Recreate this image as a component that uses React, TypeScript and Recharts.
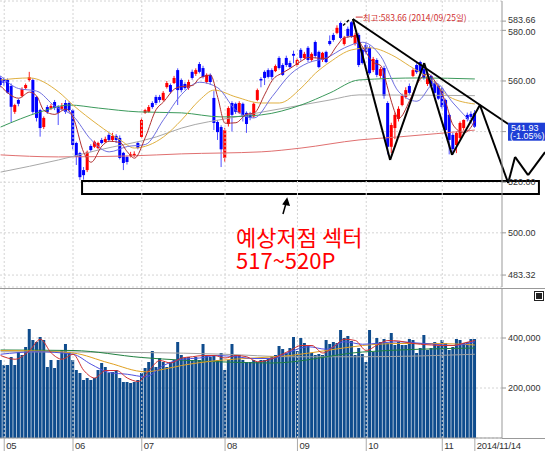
import React from 'react';
import {
  ComposedChart,
  Bar,
  Line,
  XAxis,
  YAxis,
  CartesianGrid,
  ReferenceLine,
  ReferenceArea,
  ReferenceDot,
} from 'recharts';

// daily OHLC, 2014/04/30 .. 2014/11/14 (index 0 .. 131)
const opens = [
  561.2, 560.8, 560.4, 558, 547.8, 552.5, 554.1, 557.2, 560.4, 560.4,
  553.7, 548.5, 541.8, 549.7, 549.3, 551.7, 549.7, 549, 551.3, 551.3,
  548.5, 535.5, 531.5, 524.8, 524.8, 534.3, 534, 533.5, 536.7, 535.9,
  538.7, 536.7, 538.3, 537.5, 531.6, 530, 530.4, 530.6, 535.5, 537.9,
  547.4, 547.8, 551.3, 553.7, 553.7, 552.5, 557.6, 558.4, 559.2, 564.3,
  560.4, 558.8, 557.2, 563.6, 562.8, 566.7, 565.1, 559.6, 562.4, 553.3,
  543.8, 541.8, 529.6, 543, 551.3, 551, 547.4, 551, 547.4, 547,
  546, 552.5, 560.8, 563.6, 564.3, 564.3, 563.9, 569.1, 566.3, 569.1,
  567.1, 570.7, 566.3, 572.3, 569.1, 573.1, 568.3, 575.4, 571.5, 568.3,
  571.5, 575.8, 578.2, 579, 582.9, 574.6, 580.6, 583.2, 574.6, 578.2,
  572.3, 574.2, 573.1, 564.3, 568.3, 562, 565.1, 551.3, 534, 541.4,
  545, 550.5, 553.7, 558, 562, 566.3, 567.5, 564.7, 558.8, 562,
  559.2, 558, 557, 552.5, 546.6, 538.7, 534.7, 537.5, 541.4, 546.6,
  547, 547.4,
];
const highs = [
  562, 561.5, 561, 559, 551, 553, 557.5, 559, 563.6, 561,
  554, 549, 546, 550.5, 551, 552.5, 550.5, 551.3, 552.5, 552,
  549, 536, 532, 526, 532.5, 535, 536.5, 536, 537.5, 538,
  539.5, 539.5, 539, 538.5, 532, 530.5, 532, 532.2, 536, 545.5,
  549, 550.5, 552, 554.5, 554.5, 556, 560, 559, 562, 565,
  561, 559.5, 560.5, 564.5, 565, 567.5, 566, 563, 563, 556,
  544.5, 542.5, 541.5, 550, 552, 551.5, 552, 551.5, 548, 547.8,
  551.5, 557, 561.5, 564.2, 565, 565, 566.5, 569.8, 567, 570,
  568, 572, 569, 573, 571.5, 573.8, 571.3, 576, 572, 571.5,
  572, 578, 579, 582, 583.5, 577.8, 581.5, 583.66, 579, 579,
  573, 575, 574, 569.5, 569, 565.5, 566, 552, 543.5, 547.5,
  550, 555, 557.5, 559, 565, 567, 568, 565.5, 562, 562.5,
  560, 558.5, 557.5, 553, 547, 539.5, 540, 544, 544.8, 547.5,
  548, 548.5,
];
const lows = [
  557.5, 558, 555, 543.6, 547, 550, 553.5, 556.8, 559.8, 547,
  544, 538, 541, 547, 548.5, 548.5, 542.6, 548.6, 547, 547.5,
  533, 526.8, 520.9, 521, 524, 532, 533.5, 533, 535, 535.5,
  536, 536, 535.5, 529, 524.8, 527, 529.8, 530, 533, 537.5,
  547, 547.5, 549, 550.5, 551.5, 552, 557, 555, 558.8, 550.5,
  555.5, 556.5, 556.5, 560.5, 562, 563, 561, 559, 558.5, 540.6,
  536.7, 526, 528, 542, 540, 547, 547, 544, 539.5, 544.5,
  545.5, 552, 557.5, 558.4, 561, 560.5, 563.5, 564.5, 562, 565.5,
  565, 567, 565.5, 568, 568.5, 567.5, 567.5, 569, 565, 567.5,
  567, 574, 575.5, 578.5, 576.5, 574, 577, 577, 574, 565.5,
  566.5, 570.5, 562.5, 563.5, 561.5, 561, 553, 531, 531.5, 537,
  544, 550, 553, 554.5, 561.5, 562.8, 563, 560.5, 558, 557.5,
  554.5, 552.5, 549, 540, 531, 531, 531.5, 537, 540.5, 544,
  545, 541.5,
];
const closes = [
  558.4, 559.2, 555.4, 549.8, 550.5, 551, 556.8, 558.4, 561.5, 547.8,
  545.4, 541.4, 545.4, 547.8, 550.1, 549.3, 547.4, 550, 547.8, 548.5,
  534.7, 530, 522, 522.8, 532, 532.7, 536, 535.5, 535.5, 537.1,
  536.7, 538.3, 536.7, 529.6, 527.6, 528, 531, 531.2, 533.5, 544.6,
  548.5, 549.7, 549.7, 551.3, 552.5, 555.3, 559.2, 555.7, 561.2, 556.4,
  556.4, 557.2, 559.6, 561.2, 564.3, 563.6, 561.6, 562.4, 559.6, 543.4,
  539.8, 533, 540.6, 549.3, 546.6, 547.8, 551.3, 545.8, 543, 545.4,
  551, 556.4, 560.2, 561.2, 561.6, 561.6, 565.9, 565.1, 562.4, 566.3,
  565.5, 570, 568.3, 569.1, 570.7, 568.3, 570.7, 569.9, 565.5, 571.1,
  567.5, 574.6, 576.2, 581, 577, 577, 577.8, 577.8, 578.2, 566.3,
  567.1, 571.5, 563.1, 568.7, 562.4, 564.7, 554.1, 534, 542.6, 546.6,
  549, 554.1, 556.4, 555.3, 564.3, 563.5, 563.6, 561.2, 561.6, 558,
  555.3, 553, 549.7, 540.6, 536.7, 533.1, 539.5, 543.4, 544.6, 545,
  545.8, 541.93,
];
// volume in thousands of shares
const volumes = [
  312, 292, 292, 324, 292, 344, 332, 364, 436, 392,
  384, 404, 392, 284, 312, 280, 312, 352, 376, 344,
  312, 272, 260, 232, 240, 232, 240, 272, 300, 284,
  260, 264, 272, 240, 224, 224, 220, 224, 232, 260,
  280, 304, 348, 284, 320, 304, 284, 304, 312, 384,
  332, 320, 324, 312, 324, 312, 376, 332, 324, 332,
  312, 340, 272, 312, 376, 332, 332, 312, 304, 304,
  312, 304, 312, 312, 320, 328, 332, 368, 356, 340,
  360, 404, 348, 400, 380, 372, 340, 332, 336, 332,
  392, 376, 384, 380, 432, 400, 408, 388, 332, 360,
  336, 304, 432, 344, 400, 384, 396, 380, 420, 372,
  384, 372, 372, 396, 392, 340, 360, 412, 352, 360,
  384, 368, 392, 380, 352, 364, 396, 392, 380, 384,
  396, 396,
];

// moving averages: [day index, value]
const ma5Pts: [number, number][] = [
  [0, 558], [5, 553.2], [8, 555.6], [10, 554], [12, 548.3], [15, 546.8], [18, 548.9], [20, 545.7],
  [23, 531.6], [25, 527.9], [28, 534.3], [30, 536.2], [33, 535.7], [35, 532], [37, 529.5], [40, 537.8],
  [43, 548.8], [45, 551.7], [48, 556.8], [50, 557.8], [53, 558.2], [55, 561.2], [58, 562.3], [60, 553.4],
  [62, 543.3], [65, 543.5], [68, 546.9], [70, 547.3], [73, 554.8], [75, 560.2], [78, 563.3], [80, 565],
  [83, 567.8], [85, 569.3], [88, 569], [90, 568.9], [93, 574.1], [95, 577.2], [98, 577.6], [100, 573.4],
  [103, 567.3], [105, 566.1], [107, 556.8], [108, 551.6], [110, 545.3], [113, 552.3], [115, 558.7],
  [118, 562.8], [120, 559.9], [123, 551.3], [125, 542.6], [128, 539.5], [131, 544.1],
];
const ma10Pts: [number, number][] = [
  [0, 562], [5, 557], [10, 556], [15, 550], [20, 546.2], [25, 536.8], [30, 532], [35, 534.1],
  [40, 534.9], [45, 544.7], [50, 554.7], [55, 559.5], [60, 557.3], [65, 548.4], [70, 545.4],
  [75, 553.8], [80, 562.6], [85, 567.2], [90, 569.1], [95, 573.1], [100, 575.3], [105, 569.8],
  [110, 555.7], [115, 552], [120, 559.3], [125, 551.3], [131, 542],
];
const ma20Pts: [number, number][] = [
  [0, 560.4], [8, 561.2], [16, 555.7], [20, 550.5], [27, 542.6], [33, 536.7], [37, 533.5], [41, 534.7],
  [45, 537.9], [50, 544.6], [55, 552.5], [59, 556.4], [65, 553.7], [72, 551.3], [77, 551.3], [83, 557.2],
  [87, 563.1], [91, 567.5], [97, 572.3], [102, 573.1], [108, 570.3], [113, 565.9], [119, 560.4],
  [124, 553.7], [131, 550.9],
];
const ma60Pts: [number, number][] = [
  [0, 541.8], [11, 547.8], [19, 550.5], [27, 549.3], [38, 547.8], [50, 547.4], [61, 545.8],
  [72, 546.6], [83, 550.5], [91, 555.3], [99, 560.4], [116, 561.2], [131, 560.8],
];
const ma120Pts: [number, number][] = [
  [0, 524], [16, 528.8], [27, 532.7], [43, 537.9], [50, 541.4], [65, 545.8], [80, 549.7],
  [91, 552.5], [99, 554.5], [131, 554.2],
];
const ma240Pts: [number, number][] = [
  [0, 530.8], [16, 530], [36, 530.4], [50, 531.2], [72, 532], [83, 533.5], [99, 536.7],
  [110, 537.9], [131, 540.6],
];

// volume moving averages (thousands)
const vma5Pts: [number, number][] = [
  [0, 330], [4, 315], [8, 350], [11, 395], [14, 340], [17, 315], [20, 335], [23, 270], [26, 240],
  [29, 270], [32, 270], [35, 240], [38, 226], [41, 270], [44, 310], [47, 300], [50, 320], [53, 325],
  [56, 330], [59, 330], [62, 320], [65, 330], [68, 325], [71, 305], [74, 312], [77, 330], [80, 350],
  [83, 370], [86, 370], [89, 340], [92, 365], [95, 395], [98, 390], [101, 350], [104, 372],
  [107, 390], [110, 388], [113, 380], [116, 375], [119, 372], [122, 370], [125, 370], [128, 380],
  [131, 390],
];
const vma10Pts: [number, number][] = [
  [0, 335], [10, 345], [20, 335], [25, 295], [30, 262], [35, 255], [40, 245], [45, 290], [50, 315],
  [55, 320], [60, 330], [65, 325], [70, 318], [75, 318], [80, 345], [85, 365], [90, 355], [95, 385],
  [100, 375], [105, 380], [110, 385], [115, 380], [120, 375], [125, 370], [131, 385],
];
const vma20Pts: [number, number][] = [
  [0, 350], [10, 348], [20, 340], [30, 300], [40, 265], [45, 275], [50, 290], [60, 310], [70, 320],
  [80, 330], [90, 350], [100, 370], [110, 378], [120, 378], [131, 372],
];
const vma60Pts: [number, number][] = [
  [0, 352], [20, 350], [39, 322], [62, 304], [75, 300], [100, 344], [131, 360],
];
const vma120Pts: [number, number][] = [
  [0, 345], [39, 342], [62, 335], [80, 325], [100, 325], [131, 335],
];

const monthTicks = [1, 20, 39, 62, 82, 101, 122];
const monthLabels = ['05', '06', '07', '08', '09', '10', '11'];
const lastIndex = 131;
const lastDate = '2014/11/14';
const priceTicks = [483.32, 500, 520, 540, 560, 580, 583.66];
const volumeTicks = [200000, 400000];
const lastClose = 541.93;
const lastChange = '(-1.05%)';
const highIndex = 97;
const highValue = 583.66;
const highDate = '2014/09/25';
const noteText = '예상저점 섹터\n517~520P';

// hand-drawn annotations, in (day index, price) coordinates
const zigzag: [number, number][] = [
  [97.3, 584.5], [107.6, 528.8], [117, 567.1], [124.7, 530.8], [132.4, 550.5],
  [140.2, 519.7], [142.1, 530], [145.7, 522.8], [150.4, 531.9],
];
const trendLine: [number, number][] = [[97.3, 584.5], [140.2, 543]];
const targetBox = { x1: 22.5, x2: 148.7, y1: 515.3, y2: 520.5 };
const arrowTip = { x: 79.1, y: 513.4 };

const X_DOMAIN: [number, number] = [-0.166, 138.5];
const PRICE_DOMAIN: [number, number] = [478.6, 591.6];
const AXIS_FONT = '"Liberation Sans", Arial, sans-serif';

const lookup = (pts: [number, number][]) => {
  const m = new Map(pts);
  return (i: number) => (m.has(i) ? (m.get(i) as number) : null);
};
const ma5 = lookup(ma5Pts);
const ma10 = lookup(ma10Pts);
const ma20 = lookup(ma20Pts);
const ma60 = lookup(ma60Pts);
const ma120 = lookup(ma120Pts);
const ma240 = lookup(ma240Pts);
const vma5 = lookup(vma5Pts);
const vma10 = lookup(vma10Pts);
const vma20 = lookup(vma20Pts);
const vma60 = lookup(vma60Pts);
const vma120 = lookup(vma120Pts);
const k = (v: number | null) => (v == null ? null : v * 1000);

const rows = closes.map((c, i) => ({
  i,
  o: opens[i],
  h: highs[i],
  l: lows[i],
  c,
  range: [lows[i], highs[i]],
  vol: volumes[i] * 1000,
  ma5: ma5(i),
  ma10: ma10(i),
  ma20: ma20(i),
  ma60: ma60(i),
  ma120: ma120(i),
  ma240: ma240(i),
  vma5: k(vma5(i)),
  vma10: k(vma10(i)),
  vma20: k(vma20(i)),
  vma60: k(vma60(i)),
  vma120: k(vma120(i)),
}));

const Candle = (props: any) => {
  const { x, y, width, height, payload } = props;
  if (!payload) return null;
  const { o, h, l, c } = payload;
  const top = Math.min(y, y + height);
  const bot = Math.max(y, y + height);
  const ratio = h === l ? 0 : (bot - top) / (h - l);
  const py = (v: number) => top + (h - v) * ratio;
  const up = c >= o;
  const body = up ? '#ff0000' : '#0000ff';
  const wick = up ? '#ff2020' : '#5050ff';
  const cx = x + width / 2;
  const bt = py(Math.max(o, c));
  const bb = py(Math.min(o, c));
  return (
    <g>
      <line x1={cx} x2={cx} y1={top} y2={bot} stroke={wick} strokeWidth={1} />
      <rect x={x} y={bt} width={width} height={Math.max(1, bb - bt)} fill={body} />
    </g>
  );
};

// 583.66 and 580.00 sit very close: nudge them apart a little
const PriceTick = ({ x, y, payload }: any) => {
  const v = payload.value;
  if (v === 540) return <g />;
  const dy = v === highValue ? -1.5 : v === 580 ? 1.5 : 0;
  return (
    <text x={x} y={y + dy} dy="0.355em" fontSize={9} fill="#333" fontFamily={AXIS_FONT}>
      {v.toFixed(2)}
    </text>
  );
};

const MonthTick = ({ x, y, payload }: any) => {
  const idx = payload.value;
  const label = idx === lastIndex ? lastDate : monthLabels[monthTicks.indexOf(idx)];
  return (
    <g>
      <line x1={x} x2={x} y1={y} y2={y + 13} stroke="#aaa" />
      <text
        x={x + 2}
        y={y + 10.5}
        fontSize={9.5}
        letterSpacing={-0.3}
        fill="#333"
        fontFamily={AXIS_FONT}
      >
        {label}
      </text>
    </g>
  );
};

const gridStroke = '#d4d4d4';
const lineProps = {
  dot: false,
  activeDot: false,
  connectNulls: true,
  isAnimationActive: false,
  type: 'monotone' as const,
  strokeWidth: 1,
};

export default function App() {
  return (
    <div
      style={{
        position: 'absolute',
        left: 0,
        top: 0,
        width: 545,
        height: 451,
        background: '#fff',
        overflow: 'hidden',
        fontFamily: AXIS_FONT,
      }}
    >
      <div style={{ position: 'absolute', left: 0, top: 0 }}>
        <ComposedChart width={545} height={288} data={rows} margin={{ top: 1, right: 0, bottom: 1, left: 0 }}>
          <CartesianGrid vertical={false} stroke={gridStroke} strokeDasharray="2 2" />
          <XAxis dataKey="i" type="number" domain={X_DOMAIN} allowDataOverflow hide />
          <YAxis
            orientation="right"
            width={43}
            domain={PRICE_DOMAIN}
            allowDataOverflow
            ticks={priceTicks}
            interval={0}
            tickSize={4}
            tickMargin={2}
            axisLine={{ stroke: '#999' }}
            tickLine={{ stroke: '#999' }}
            tick={(p: any) => <PriceTick {...p} />}
          />
          {monthTicks.map((m) => (
            <ReferenceLine key={m} x={m} stroke={gridStroke} strokeDasharray="2 2" />
          ))}
          <Line dataKey="ma240" stroke="#e07070" {...lineProps} />
          <Line dataKey="ma120" stroke="#a8a8a8" {...lineProps} />
          <Line dataKey="ma60" stroke="#3c9a5c" {...lineProps} />
          <Line dataKey="ma20" stroke="#e0b040" {...lineProps} />
          <Line dataKey="ma10" stroke="#7070e0" {...lineProps} />
          <Line dataKey="ma5" stroke="#b03030" {...lineProps} />
          <Bar dataKey="range" barSize={3} shape={(p: any) => <Candle {...p} />} isAnimationActive={false} />

          <ReferenceArea
            x1={targetBox.x1}
            x2={targetBox.x2}
            y1={targetBox.y1}
            y2={targetBox.y2}
            fill="transparent"
            fillOpacity={0}
            stroke="#000"
            strokeWidth={2}
            ifOverflow="visible"
          />
          <ReferenceLine
            segment={[{ x: trendLine[0][0], y: trendLine[0][1] }, { x: trendLine[1][0], y: trendLine[1][1] }]}
            stroke="#000"
            strokeWidth={2}
            ifOverflow="visible"
          />
          {zigzag.slice(1).map((p, n) => (
            <ReferenceLine
              key={n}
              segment={[{ x: zigzag[n][0], y: zigzag[n][1] }, { x: p[0], y: p[1] }]}
              stroke="#000"
              strokeWidth={2}
              ifOverflow="visible"
            />
          ))}
          <ReferenceLine
            segment={[{ x: 94.6, y: 581.9 }, { x: 96.2, y: 584.1 }]}
            stroke="#000"
            strokeWidth={1.5}
            strokeDasharray="3 2"
            ifOverflow="visible"
          />
          <ReferenceDot
            x={highIndex}
            y={highValue}
            ifOverflow="visible"
            shape={(p: any) => (
              <g>
                <line x1={p.cx + 4} x2={p.cx + 11} y1={p.cy - 4} y2={p.cy - 4} stroke="#d03030" />
                <text
                  x={p.cx + 11}
                  y={p.cy}
                  fontSize={8.5}
                  fill="#d03030"
                  fontFamily='"Noto Sans CJK KR", sans-serif'
                >
                  {`최고:${highValue.toFixed(2)} (${highDate}일)`}
                </text>
              </g>
            )}
          />
          <ReferenceDot
            x={arrowTip.x}
            y={arrowTip.y}
            ifOverflow="visible"
            shape={(p: any) => (
              <g stroke="#000" strokeWidth={1.5} fill="#000">
                <line x1={p.cx - 4} y1={p.cy + 15} x2={p.cx} y2={p.cy + 1} />
                <polygon points={`${p.cx},${p.cy} ${p.cx - 3.5},${p.cy + 5} ${p.cx + 2},${p.cy + 6}`} />
              </g>
            )}
          />
          <ReferenceDot
            x={X_DOMAIN[1]}
            y={lastClose}
            ifOverflow="visible"
            shape={(p: any) => (
              <g>
                <rect x={p.cx + 6} y={p.cy - 4} width={39} height={18} fill="#1f3fd6" />
                <text x={p.cx + 9} y={p.cy + 4} fontSize={9} fill="#fff" fontFamily={AXIS_FONT}>
                  {lastClose.toFixed(2)}
                </text>
                <text x={p.cx + 8} y={p.cy + 12.5} fontSize={9} fill="#fff" fontFamily={AXIS_FONT}>
                  {lastChange}
                </text>
              </g>
            )}
          />
        </ComposedChart>
      </div>

      <div style={{ position: 'absolute', left: 0, top: 288 }}>
        <ComposedChart width={545} height={163} data={rows} margin={{ top: 0, right: 0, bottom: 0, left: 0 }}>
          <CartesianGrid vertical={false} stroke={gridStroke} strokeDasharray="2 2" />
          <XAxis
            dataKey="i"
            type="number"
            domain={X_DOMAIN}
            allowDataOverflow
            ticks={[...monthTicks, lastIndex]}
            interval={0}
            height={13}
            tickSize={0}
            tickMargin={0}
            axisLine={{ stroke: '#999' }}
            tickLine={false}
            tick={(p: any) => <MonthTick {...p} />}
          />
          <YAxis
            orientation="right"
            width={43}
            domain={[0, 600000]}
            ticks={volumeTicks}
            interval={0}
            tickSize={4}
            tickMargin={2}
            axisLine={{ stroke: '#999' }}
            tickLine={{ stroke: '#999' }}
            tick={{ fontSize: 9, fill: '#333', fontFamily: AXIS_FONT }}
            tickFormatter={(v: number) => v.toLocaleString('en-US')}
          />
          {monthTicks.map((m) => (
            <ReferenceLine key={m} x={m} stroke={gridStroke} strokeDasharray="2 2" />
          ))}
          <Bar dataKey="vol" barSize={3} fill="#0f4c8d" isAnimationActive={false} />
          <Line dataKey="vma120" stroke="#a0a0a0" {...lineProps} />
          <Line dataKey="vma60" stroke="#208040" {...lineProps} />
          <Line dataKey="vma20" stroke="#e0a020" {...lineProps} />
          <Line dataKey="vma10" stroke="#5050e0" {...lineProps} />
          <Line dataKey="vma5" stroke="#d03030" {...lineProps} />
        </ComposedChart>
      </div>

      {/* panel frame */}
      <div style={{ position: 'absolute', left: 0, top: 288, width: 545, height: 1, background: '#999' }} />
      <div style={{ position: 'absolute', left: 502, top: 438, width: 43, height: 1, background: '#999' }} />
      <div
        style={{
          position: 'absolute',
          left: 535,
          top: 292,
          width: 6,
          height: 6,
          background: '#222',
          border: '1px solid #fff',
          outline: '1px solid #222',
        }}
      />

      {/* expected-bottom note */}
      <div
        style={{
          position: 'absolute',
          left: 236,
          top: 225,
          color: '#ff0000',
          fontSize: 22,
          lineHeight: '23px',
          fontFamily: '"Noto Sans CJK KR", sans-serif',
          whiteSpace: 'pre',
        }}
      >
        {noteText}
      </div>
    </div>
  );
}
